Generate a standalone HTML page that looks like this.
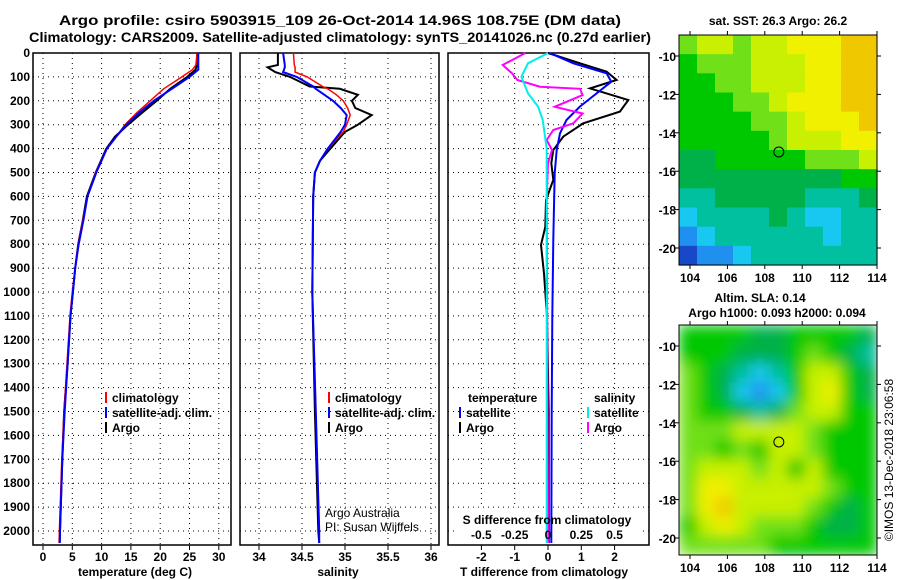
<!DOCTYPE html>
<html><head><meta charset="utf-8"><style>
body{margin:0;background:#fff;}
svg{display:block;font-family:"Liberation Sans",Arial,sans-serif;}
.t{font-weight:bold;font-size:12px;}
</style></head><body>
<svg id="c" width="900" height="580" xmlns="http://www.w3.org/2000/svg">
<defs>
<filter id="blur" x="0" y="0" width="1" height="1"><feGaussianBlur stdDeviation="7" edgeMode="duplicate"/></filter>
<clipPath id="clipSla"><rect x="679" y="325" width="198" height="230"/></clipPath>
</defs>
</svg>
<script>
// ---------- data ----------
const depthTicks=[0,100,200,300,400,500,600,700,800,900,1000,1100,1200,1300,1400,1500,1600,1700,1800,1900,2000];
const tempTicks=[0,5,10,15,20,25,30];
const salTicks=[34,34.5,35,35.5,36];
const salTickLabels=["34","34.5","35","35.5","36"];
const tdTicks=[-2,-1,0,1,2];
const sdTicks=[-0.5,-0.25,0,0.25,0.5];
const sdTickLabels=["-0.5","-0.25","0","0.25","0.5"];
// temperature profiles
const tDepthArgo=[0,50,70,100,150,200,250,300,350,400,500,600,700,800,900,1000,1100,1300,1500,1700,2000,2050];
const tArgo=[26.3,26.3,26,24.6,21.7,19.4,16.9,14.5,12.3,10.8,9.0,7.5,6.8,6.0,5.5,5.1,4.7,4.2,3.6,3.3,2.9,2.85];
const tClim=[26.3,26.1,25.5,23.7,20.6,18.3,16.0,14.0,12.5,10.9,9.0,7.6,6.8,6.0,5.5,5.0,4.6,4.1,3.6,3.2,2.8,2.75];
const tSat=[26.5,26.5,26.5,25.0,22.0,18.9,16.4,14.2,12.5,10.9,9.1,7.6,6.9,6.1,5.5,5.1,4.7,4.2,3.7,3.3,2.9,2.85];
// salinity profiles
const sDepth=[0,50,60,80,100,140,150,175,200,230,260,300,330,400,450,500,600,1000,1500,2000,2050];
const sArgo=[34.22,34.22,34.10,34.19,34.36,34.59,34.94,35.15,35.08,35.12,35.31,35.15,35.0,34.83,34.71,34.65,34.63,34.62,34.65,34.69,34.70];
const sClim=[34.40,34.41,34.42,34.42,34.56,34.74,34.80,34.90,34.98,35.03,35.06,35.02,34.98,34.80,34.71,34.65,34.63,34.62,34.66,34.70,34.70];
const sSat=[34.28,34.30,34.30,34.28,34.44,34.63,34.66,34.76,34.86,34.95,35.02,35.0,34.95,34.80,34.71,34.65,34.63,34.62,34.66,34.70,34.70];
// difference profiles
const dtDepthArgo=[0,43,78,113,148,197,245,294,350,406,461,531,615,727,803,922,1103,1500,2050];
const dtArgo=[0,0.96,1.76,2.06,1.26,2.41,2.16,1.06,0.46,0.16,0.10,0.16,-0.06,-0.08,-0.21,-0.12,-0.03,0.02,0.02];
const dtDepthSat=[0,43,85,120,169,224,280,336,406,503,782,1103,1500,2050];
const dtSat=[0.05,0.76,1.76,1.90,1.46,0.96,0.56,0.36,0.26,0.20,0.16,0.13,0.11,0.10];
const dsDepthArgo=[0,50,85,113,141,150,176,225,253,294,322,364,406,461,600,2050];
const dsArgo=[-0.17,-0.34,-0.27,-0.23,-0.06,0.24,0.26,0.05,0.26,0.19,0.04,-0.01,0.03,0,-0.01,0];
const dsDepthSat=[0,43,99,127,169,224,280,400,800,2050];
const dsSat=[0,-0.15,-0.20,-0.18,-0.15,-0.075,-0.04,-0.01,-0.01,-0.01];
// maps: 11 cols (103.4..114E) x 12 rows (-9..-21), palette index
const sstGrid=[
[6,7,7,6,7,7,8,8,8,9,9],
[5,6,6,6,7,7,7,8,8,9,9],
[5,5,6,6,7,7,7,8,8,9,9],
[5,5,5,6,6,7,8,8,8,9,9],
[5,5,5,5,6,6,7,8,8,8,9],
[5,5,5,5,5,6,7,7,7,8,8],
[4,4,5,5,5,5,5,6,6,6,7],
[4,4,4,4,4,4,4,4,4,5,5],
[3,3,4,4,4,4,4,3,3,3,4],
[2,3,3,3,3,4,3,2,2,3,3],
[1,2,3,3,3,3,3,3,2,3,3],
[0,1,1,2,3,3,3,3,3,3,3]];
const slaGrid=[
[5,5,5,5,4,4,5,5,5,5,4],
[5,5,5,4,4,4,5,6,5,4,3],
[6,5,4,3,2,3,5,7,7,5,4],
[6,5,4,2,1,2,5,7,8,5,4],
[6,5,5,4,3,4,6,7,7,5,5],
[6,6,6,7,7,7,7,6,5,5,5],
[6,6,5,6,5,7,7,6,5,5,5],
[6,7,7,7,6,7,5,7,5,5,5],
[6,8,8,7,7,7,7,7,6,5,5],
[6,8,9,7,7,7,7,6,5,4,5],
[5,7,8,7,6,6,6,5,4,4,5],
[6,6,6,6,6,5,5,5,5,5,5]];
const lonTicks=[104,106,108,110,112,114];
const latTicks=[-10,-12,-14,-16,-18,-20];
const floatLon=108.75, floatLat=-15;

const palette=["#1848c8","#2090f0","#18c8f0","#00c0a0","#00b048","#00c800","#70e018","#c8f000","#f0f000","#f0c800"];

// ---------- helpers ----------
const NS="http://www.w3.org/2000/svg";
const svg=document.getElementById('c');
function el(tag,attrs,parent,text){const e=document.createElementNS(NS,tag);for(const k in attrs)e.setAttribute(k,attrs[k]);if(text!==undefined)e.textContent=text;(parent||svg).appendChild(e);return e;}
const top0=53, pxPerM=0.239, bot=545;
const yD=d=>top0+d*pxPerM;
function lin(d0,d1,p0,p1){return v=>p0+(v-d0)/(d1-d0)*(p1-p0);}

function panel(name,x0,x1,xs,ticks,labels){
  const g=el('g',{},svg);
  
  
  depthTicks.forEach(d=>{el('line',{x1:x0,x2:x1,y1:yD(d),y2:yD(d),stroke:'#000','stroke-width':1,'stroke-dasharray':'1,4'},g);});
  ticks.forEach((t,i)=>{const x=xs(t);el('line',{x1:x,x2:x,y1:top0,y2:bot,stroke:'#000','stroke-width':1,'stroke-dasharray':'1,4'},g);
    el('line',{x1:x,x2:x,y1:bot,y2:bot+5,stroke:'#000'},g);
    if(labels){const tx=el('text',{x:x,y:bot+16,'text-anchor':'middle',class:'t'},g,labels[i]);}});
  el('rect',{x:x0,y:top0,width:x1-x0,height:bot-top0,fill:'none',stroke:'#000','stroke-width':1.5},g);
  return g;
}
function line(g,xs,vals,depths,color,w,name){
  const pts=vals.map((v,i)=>xs(v).toFixed(1)+','+yD(depths[i]).toFixed(1)).join(' ');
  const p=el('polyline',{points:pts,fill:'none',stroke:color,'stroke-width':w},g);
  
  
}
function txt(x,y,s,opts,name){const t=el('text',Object.assign({x:x,y:y},opts||{class:'t'}),svg,s);return t;}

// titles
txt(340,25,"Argo profile: csiro 5903915_109 26-Oct-2014 14.96S 108.75E (DM data)",{'text-anchor':'middle',class:'t',style:'font-size:14px',textLength:'562',lengthAdjust:'spacingAndGlyphs'},'title-line-1');
txt(340,42,"Climatology: CARS2009. Satellite-adjusted climatology: synTS_20141026.nc (0.27d earlier)",{'text-anchor':'middle',class:'t',style:'font-size:14px',textLength:'622',lengthAdjust:'spacingAndGlyphs'},'title-line-2');

// depth labels
depthTicks.forEach(d=>{txt(30,yD(d)+4,String(d),{'text-anchor':'end',class:'t'},'depth-tick-label');});

// panel 1
const xT=lin(0,5,43,72.3);
const g1=panel('temperature-panel',33,231,xT,tempTicks,tempTicks.map(String));
line(g1,xT,tArgo,tDepthArgo,'#000',2,'argo-temperature-line');
line(g1,xT,tClim,tDepthArgo,'#f00',1.5,'climatology-temperature-line');
line(g1,xT,tSat,tDepthArgo,'#00f',2,'satellite-temperature-line');
txt(135,576,"temperature (deg C)",{'text-anchor':'middle',class:'t'},'temperature-axis-title');

// panel 2
const xS=lin(34,34.5,259,302);
const g2=panel('salinity-panel',240,439,xS,salTicks,salTickLabels);
line(g2,xS,sArgo,sDepth,'#000',2,'argo-salinity-line');
line(g2,xS,sClim,sDepth,'#f00',1.5,'climatology-salinity-line');
line(g2,xS,sSat,sDepth,'#00f',2,'satellite-salinity-line');
txt(338,576,"salinity",{'text-anchor':'middle',class:'t'},'salinity-axis-title');
txt(325,517,"Argo Australia",{'font-size':'12px'},'credit-argo-australia');
txt(325,531,"PI: Susan Wijffels",{'font-size':'12px'},'credit-pi');

// legends
function legend(x,y,color,label,name){const g=el('g',{},svg);
  el('rect',{x:x,y:y-10,width:2,height:11,fill:color},g);el('text',{x:x+7,y:y,class:'t'},g,label);}
legend(105,402,'#f00','climatology','legend-climatology-temp');
legend(105,417,'#00f','satellite-adj. clim.','legend-satellite-temp');
legend(105,432,'#000','Argo','legend-argo-temp');
legend(328,402,'#f00','climatology','legend-climatology-sal');
legend(328,417,'#00f','satellite-adj. clim.','legend-satellite-sal');
legend(328,432,'#000','Argo','legend-argo-sal');

// panel 3
const xD=lin(0,1,548,581.3);
const xSD=v=>xD(v*4);
const g3=panel('difference-panel',448,649,xD,tdTicks,tdTicks.map(String));
el('rect',{x:455,y:508,width:185,height:36,fill:'#fff'},g3);
line(g3,xD,dtArgo,dtDepthArgo,'#000',2,'argo-temperature-difference-line');
line(g3,xD,dtSat,dtDepthSat,'#00f',2,'satellite-temperature-difference-line');
line(g3,xSD,dsArgo,dsDepthArgo,'#f0f',2,'argo-salinity-difference-line');
line(g3,xSD,dsSat,dsDepthSat,'#0ee',2,'satellite-salinity-difference-line');
sdTicks.forEach((t,i)=>{txt(xSD(t),539,sdTickLabels[i],{'text-anchor':'middle',class:'t'},'s-diff-tick-label');});
txt(547,524,"S difference from climatology",{'text-anchor':'middle',class:'t'},'s-difference-axis-title');
txt(544,576,"T difference from climatology",{'text-anchor':'middle',class:'t'},'t-difference-axis-title');
txt(468,402,"temperature",{class:'t'},'legend-title-temperature');
txt(594,402,"salinity",{class:'t'},'legend-title-salinity');
legend(459,417,'#00f','satellite','legend-satellite-tdiff');
legend(459,432,'#000','Argo','legend-argo-tdiff');
legend(587,417,'#0ee','satellite','legend-satellite-sdiff');
legend(587,432,'#f0f','Argo','legend-argo-sdiff');

// maps
function map(name,grid,yTop,yBot,smooth){
  const x0=679,x1=877;
  const g=el('g',{},svg);
  const lonX=lin(104,114,690,877);
  const latY=lin(-10,-20,yTop+21,yTop+213);
  const rows=grid.length,cols=grid[0].length;
  const cw=(x1-x0)/cols,ch=(yBot-yTop)/rows;
  const cg=el('g',smooth?{'clip-path':'url(#clipSla)'}:{},g);
  const cells=el('g',smooth?{filter:'url(#blur)'}:{},cg);
  grid.forEach((r,i)=>r.forEach((v,j)=>{
    const c=el('rect',{x:(x0+j*cw).toFixed(2),y:(yTop+i*ch).toFixed(2),width:(cw+0.6).toFixed(2),height:(ch+0.6).toFixed(2),fill:palette[v]},cells);
    
    
  }));
  el('rect',{x:x0,y:yTop,width:x1-x0,height:yBot-yTop,fill:'none',stroke:'#000','stroke-width':1},g);
  lonTicks.forEach(l=>{const x=lonX(l);el('line',{x1:x,x2:x,y1:yBot,y2:yBot+4,stroke:'#000'},g);el('line',{x1:x,x2:x,y1:yTop,y2:yTop-4,stroke:'#000'},g);
    el('text',{x:x,y:yBot+17,'text-anchor':'middle',class:'t'},g,String(l));});
  latTicks.forEach(l=>{const y=latY(l);el('line',{x1:x0-4,x2:x0,y1:y,y2:y,stroke:'#000'},g);el('line',{x1:x1,x2:x1+4,y1:y,y2:y,stroke:'#000'},g);
    el('text',{x:x0-3,y:y+5,'text-anchor':'end',class:'t'},g,String(l));});
  const m=el('circle',{cx:lonX(floatLon),cy:latY(floatLat),r:5,fill:'none',stroke:'#000','stroke-width':1},g);
  
  
}
map('sst-map',sstGrid,35,265,false);
map('sla-map',slaGrid,325,555,true);
txt(778,25,"sat. SST: 26.3 Argo: 26.2",{'text-anchor':'middle',class:'t'},'sst-map-title');
txt(760,302,"Altim. SLA: 0.14",{'text-anchor':'middle',class:'t'},'sla-map-title');
txt(777,317,"Argo h1000: 0.093 h2000: 0.094",{'text-anchor':'middle',class:'t'},'sla-map-subtitle');
txt(0,0,"©IMOS 13-Dec-2018 23:06:58",{'text-anchor':'middle','font-size':'12px',transform:'translate(893,460) rotate(-90)'},'copyright-timestamp');
</script>
</body></html>
